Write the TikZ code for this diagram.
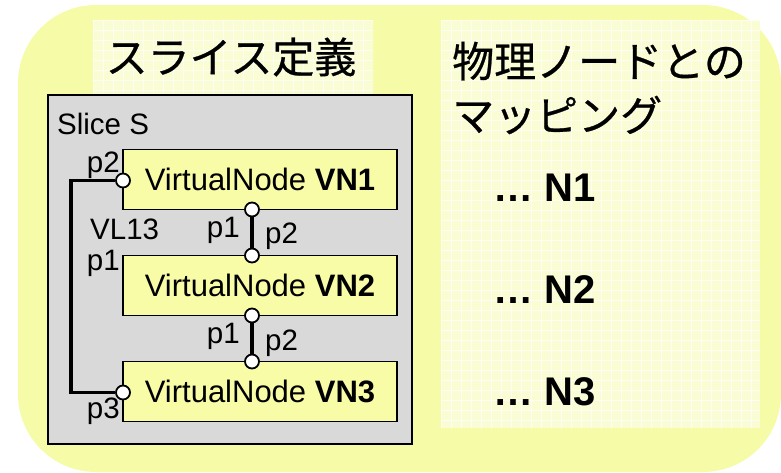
\documentclass[tikz,border=0pt]{standalone}
\usepackage{fontspec}
\setmainfont{Liberation Sans}
\newfontfamily\cjk[FakeBold=0.6]{Noto Sans CJK JP}
\definecolor{bgyellow}{RGB}{246,251,168}
\definecolor{boxyellow}{RGB}{249,252,166}
\definecolor{panelyellow}{RGB}{250,253,212}
\definecolor{slicegrey}{RGB}{217,217,217}
\tikzset{
  vnbox/.style={draw=black, line width=1.8pt, fill=boxyellow, minimum width=274pt, minimum height=60pt, inner sep=0pt, font=\fontsize{31}{36}\selectfont},
  port/.style={circle, draw=black, fill=white, line width=1.8pt, minimum size=14pt, inner sep=0pt},
  vlink/.style={line width=3.6pt, black},
  lbl/.style={font=\fontsize{29.5}{34}\selectfont, inner sep=0pt},
  jtitle/.style={font=\cjk\fontsize{42}{54}\selectfont, inner sep=0pt},
  nlabel/.style={font=\bfseries\fontsize{40}{46}\selectfont, inner sep=0pt, anchor=west},
  gridline/.style={white, line width=0.5pt, opacity=0.7},
}
\begin{document}
\begin{tikzpicture}[x=1pt,y=-1pt]
\useasboundingbox (0,0) rectangle (781,472);
% outer background
\fill[bgyellow, rounded corners=78pt] (18,5) rectangle (781,472);
% panels with grid
\fill[panelyellow] (93,20) rectangle (373,95);
\fill[panelyellow] (441,20) rectangle (760,428);
\begin{scope}
\clip (93,20) rectangle (373,95);
\foreach \x in {93,103,...,373} \draw[gridline] (\x,20) -- (\x,95);
\foreach \y in {20,30,...,95} \draw[gridline] (93,\y) -- (373,\y);
\end{scope}
\begin{scope}
\clip (441,20) rectangle (760,428);
\foreach \x in {441,451,...,760} \draw[gridline] (\x,20) -- (\x,428);
\foreach \y in {20,30,...,428} \draw[gridline] (441,\y) -- (760,\y);
\end{scope}
% titles
\node[jtitle] (t1) at (231,57) {スライス定義};
\node[jtitle, align=left, anchor=west] (t2) at (452,88) {物理ノードとの\\マッピング};
% slice box
\node[draw=black, line width=1.8pt, fill=slicegrey, minimum width=364pt, minimum height=349pt, inner sep=0pt] (slice) at (230,269.5) {};
\node[lbl, anchor=base west] (slicelbl) at (57,134) {Slice S};
% virtual nodes
\node[vnbox] (VN1) at (260,179.5) {VirtualNode \textbf{VN1}};
\node[vnbox] (VN2) at (260,285.5) {VirtualNode \textbf{VN2}};
\node[vnbox] (VN3) at (260,391.5) {VirtualNode \textbf{VN3}};
% ports
\coordinate (c1) at (71,180.5);
\coordinate (c2) at (71,392.5);
\node[port] (VN1p1) at (252,209.5) {};
\node[port] (VN2p2) at (252,255.5) {};
\node[port] (VN2p1) at (252,315.5) {};
\node[port] (VN3p2) at (252,361.5) {};
% links
\draw[vlink] (VN1p1) -- (VN2p2);
\draw[vlink] (VN2p1) -- (VN3p2);
\node[port] (VN1p2) at (123,180.5) {};
\node[port] (VN3p3) at (123,392.5) {};
\draw[vlink] (VN1p2) -- (c1) -- (c2) -- (VN3p3);
% port labels
\node[lbl, anchor=base east] (l1) at (120,172) {p2};
\node[lbl, anchor=base west] (l2) at (90,239) {VL13};
\node[lbl, anchor=base east] (l3) at (240,237) {p1};
\node[lbl, anchor=base west] (l4) at (265,243) {p2};
\node[lbl, anchor=base east] (l5) at (120,270) {p1};
\node[lbl, anchor=base east] (l6) at (240,343) {p1};
\node[lbl, anchor=base west] (l7) at (265,350) {p2};
\node[lbl, anchor=base east] (l8) at (120,418) {p3};
% mapping labels
\node[nlabel] (n1) at (493,188) {… N1};
\node[nlabel] (n2) at (493,290) {… N2};
\node[nlabel] (n3) at (493,392) {… N3};
\end{tikzpicture}
\end{document}
